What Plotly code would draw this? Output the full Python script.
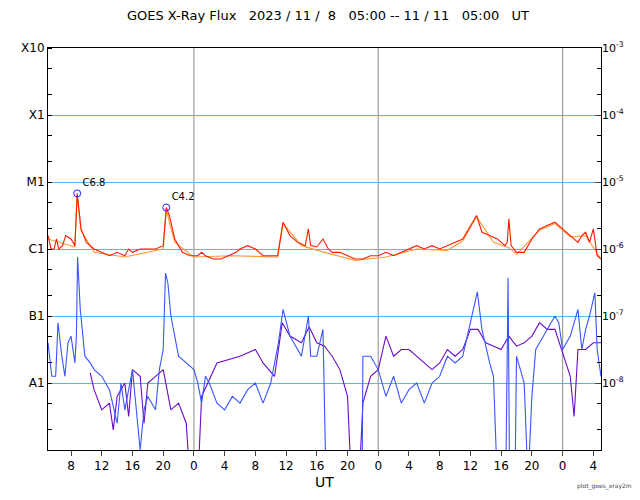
import plotly.graph_objects as go

# hours after 2023-11-08 05:00 UT, values as log10(W/m^2)
red_t = [0, 0.4, 0.8, 1.1, 1.4, 1.9, 2.3, 3.0, 3.5, 3.8, 4.3, 5.0, 6, 7, 8, 9, 10, 10.5, 11, 12, 13, 14, 15,
         15.4, 15.8, 16.5, 17.5, 18.5, 19.5, 20, 20.5, 21.5, 22.5, 23.5, 24.5, 25, 26, 27, 28, 29, 29.9, 30.6,
         31.5, 32.5, 33.5, 33.9, 34.2, 35, 35.8, 36.5, 37, 38, 39, 40, 41, 42, 43, 44, 45, 46, 47, 48, 49, 50,
         51, 52, 53, 54, 55.8, 56.5, 57.5, 58.5, 59.5, 59.8, 60, 60.3, 61, 62, 63, 64, 65, 66, 67, 68, 69,
         69.5, 70, 70.5, 71, 71.5, 72]
red_v = [-5.8, -6.0, -6.0, -5.85, -6.0, -5.95, -5.8, -5.85, -5.95, -5.17, -5.7, -5.9, -6.0, -6.05, -6.1, -6.05,
         -6.1, -6.0, -6.05, -6.0, -6.0, -6.0, -5.95, -5.38, -5.5, -5.85, -6.05, -6.1, -6.1, -6.05, -6.1, -6.15,
         -6.15, -6.1, -6.05, -6.0, -5.95, -6.0, -6.1, -6.1, -6.1, -5.6, -5.8, -5.9, -5.95, -5.7, -5.95, -5.97,
         -5.85, -6.0, -6.05, -6.05, -6.1, -6.15, -6.15, -6.1, -6.1, -6.05, -6.1, -6.05, -6.0, -5.95, -6.0, -5.95,
         -6.0, -5.95, -5.9, -5.85, -5.5, -5.75, -5.8, -5.85, -5.95, -5.9, -5.55, -5.95, -6.05, -6.05, -5.85,
         -5.7, -5.65, -5.6, -5.7, -5.8, -5.9, -5.8, -5.75, -5.9, -5.7, -6.1, -6.15]

orange_t = [0, 3.5, 3.8, 4.3, 6, 10, 15, 15.4, 16.5, 19, 24, 29.9, 30.6, 33, 36, 40, 44, 48, 52, 54, 55.8,
            58, 60, 61, 64, 66, 68, 70, 72]
orange_v = [-5.85, -5.97, -5.2, -5.72, -6.05, -6.12, -6.0, -5.42, -5.9, -6.12, -6.1, -6.12, -5.62, -5.95,
            -6.05, -6.17, -6.12, -6.0, -6.02, -5.88, -5.52, -5.9, -5.98, -6.08, -5.72, -5.62, -5.82, -5.8, -6.15]

blue_t = [0, 0.5, 1.0, 1.3, 1.8, 2.2, 2.6, 3.0, 3.5, 3.7, 3.85, 4.2, 4.8, 5.5, 6, 7, 8, 9, 9.5, 10, 11, 12,
          12.5, 13, 14, 14.5, 15, 15.3, 15.6, 16, 17, 18, 19, 19.5, 20, 20.5, 21, 22, 23, 24, 25, 26, 27, 28,
          29, 30, 30.6, 31.5, 32.5, 33, 33.9, 34.2, 35, 35.8, 36.2, 40.9, 41, 42, 43, 44, 45, 46, 47, 48, 49,
          50, 51, 52, 53, 54, 55.9, 56.5, 57.5, 58, 58.5, 59.6, 59.9, 60.1, 60.8, 61, 62, 62.5, 63, 63.5, 64,
          65, 66, 66.5, 67, 68, 69, 69.5, 70, 70.5, 71.2, 71.5, 72]
blue_v = [-7.4, -7.9, -7.9, -7.1, -7.6, -7.9, -7.4, -7.3, -7.7, -7.3, -6.12, -6.9, -7.6, -7.7, -7.8, -7.9, -8.1,
          -8.6, -8.0, -8.4, -7.8, -9.0, -8.4, -8.2, -8.4, -7.8, -7.5, -6.36, -6.5, -7.0, -7.6, -7.7, -7.8, -8.0,
          -8.3, -7.9, -8.0, -8.3, -8.4, -8.2, -8.3, -8.1, -8.0, -8.3, -8.0, -7.4, -6.9, -7.3, -7.5, -7.6, -7.0,
          -7.6, -7.6, -7.2, -9.5, -9.5, -7.6, -7.6, -7.8, -8.2, -7.9, -8.3, -8.1, -8.0, -8.3, -8.0, -7.9, -7.6,
          -7.7, -7.6, -6.64, -7.2, -7.7, -7.9, -9.5, -9.5, -6.43, -9.5, -9.5, -7.6, -8.0, -9.5, -8.2, -7.5, -7.4,
          -7.2, -7.0, -7.1, -7.5, -7.3, -6.9, -7.5, -7.2, -7.0, -6.65, -7.5, -7.9]

purple_t = [5.5, 6, 7, 8, 8.5, 9, 10, 10.5, 11, 12, 12.5, 13, 14, 15, 16, 17, 18, 18.5, 19.5, 20, 22, 25, 27,
            28, 29.5, 30.5, 31.5, 33, 34, 35, 36, 37, 38, 39, 39.5, 40.5, 41, 42, 43, 44, 45, 46, 47, 48, 49, 50,
            51, 52, 53, 54, 55, 56, 57, 58, 59, 60, 61, 62, 63, 64, 65, 66, 67, 68, 68.5, 69, 70, 71, 72]
purple_v = [-7.85, -8.1, -8.4, -8.3, -8.7, -8.2, -8.0, -8.5, -7.8, -7.9, -8.6, -8.0, -7.9, -7.8, -8.4, -8.3,
            -8.6, -9.5, -9.5, -8.2, -7.7, -7.6, -7.5, -7.7, -7.9, -7.1, -7.3, -7.4, -7.16, -7.4, -7.45, -7.6,
            -7.8, -8.2, -9.5, -9.5, -8.3, -7.9, -7.8, -7.3, -7.6, -7.5, -7.5, -7.6, -7.7, -7.8, -7.7, -7.5, -7.6,
            -7.5, -7.2, -7.2, -7.4, -7.45, -7.5, -7.3, -7.45, -7.4, -7.3, -7.1, -7.2, -7.2, -7.55, -7.9, -8.5,
            -7.5, -7.5, -7.4, -7.4]

peak_t = [3.8, 15.4]
peak_v = [-5.17, -5.38]
peak_lbl = ["C6.8", "C4.2"]

tick_t = [3, 7, 11, 15, 19, 23, 27, 31, 35, 39, 43, 47, 51, 55, 59, 63, 67, 71]
tick_lbl = ["8", "12", "16", "20", "0", "4", "8", "12", "16", "20", "0", "4", "8", "12", "16", "20", "0", "4"]
day_t = [19, 43, 67]
flare_lbl = ["A1", "B1", "C1", "M1", "X1", "X10"]
flare_pos = [-8, -7, -6, -5, -4, -3]


def flux(v):
    return [10 ** e for e in v]


fig = go.Figure()
for t, v, c in [(purple_t, purple_v, "#6a0dc8"), (blue_t, blue_v, "#3a55ff"),
                (orange_t, orange_v, "#ff9a30"), (red_t, red_v, "#ff1a00")]:
    fig.add_trace(go.Scatter(x=t, y=flux(v), mode="lines", line=dict(color=c, width=1.1), showlegend=False))

fig.add_trace(go.Scatter(x=peak_t, y=flux(peak_v), mode="markers+text", text=peak_lbl,
                         textposition="top right", textfont=dict(size=10, color="black"),
                         marker=dict(symbol="circle-open", size=7, color="#2020ff"), showlegend=False))
# dummy trace for right axis
fig.add_trace(go.Scatter(x=[0], y=[1e-9], yaxis="y2", mode="markers", marker=dict(opacity=0), showlegend=False))

for d in day_t:
    fig.add_vline(x=d, line=dict(color="#a0a0a0", width=1.2), layer="below")

# page body adds an 8px offset, so margins are trimmed on top/left
fig.update_layout(
    width=640, height=500, plot_bgcolor="white", paper_bgcolor="white",
    margin=dict(l=40, r=47, t=40, b=58, autoexpand=False),
    font=dict(family="DejaVu Sans", size=12, color="black"),
    title=dict(text="GOES X-Ray Flux   2023 / 11 /  8   05:00 -- 11 / 11   05:00   UT",
               x=0.5, y=0.995, yanchor="top", xanchor="center", font=dict(size=13), automargin=False),
    xaxis=dict(range=[0, 72], tickvals=tick_t, ticktext=tick_lbl, ticks="outside", ticklen=5,
               showgrid=False, showline=True, linecolor="black", mirror=True, zeroline=False,
               automargin=False, title=dict(text="UT", standoff=4)),
    yaxis=dict(type="log", range=[-9, -3], tickvals=[10 ** p for p in flare_pos], ticktext=flare_lbl,
               showgrid=True, gridcolor="#5ab4f0", gridwidth=1, showline=True, linecolor="black",
               ticks="", minor=dict(ticks="inside", ticklen=4, showgrid=False, tickcolor="black"),
               mirror=True, automargin=False),
    yaxis2=dict(type="log", range=[-9, -3], overlaying="y", side="right", automargin=False,
                tickvals=[10 ** p for p in range(-8, -2)],
                ticktext=["10<sup>%d</sup>" % p for p in range(-8, -2)],
                showgrid=False, ticks="inside", ticklen=6,
                minor=dict(ticks="inside", ticklen=4, tickcolor="black"), tickfont=dict(size=11)),
)
fig.add_annotation(text="plot_goes_xray2m", xref="paper", yref="paper", x=1.06, y=-0.105,
                   showarrow=False, xanchor="right", font=dict(size=6, color="#444"))
fig.write_html("out.html")
